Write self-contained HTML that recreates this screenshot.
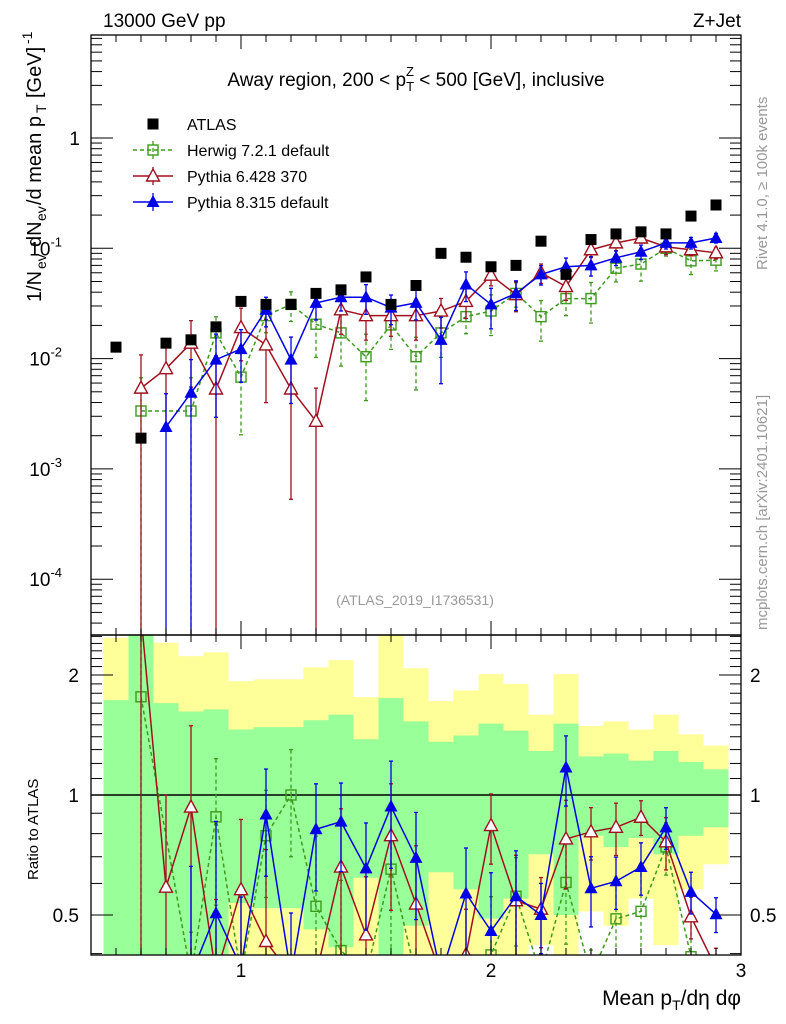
<!DOCTYPE html>
<html><head><meta charset="utf-8">
<style>
html,body{margin:0;background:#fff;overflow:hidden;width:786px;height:1024px;}
svg{display:block;font-family:"Liberation Sans",sans-serif;}
</style></head>
<body>
<svg id="c" width="786" height="1024" xmlns="http://www.w3.org/2000/svg">
<defs>
<clipPath id="cm"><rect x="91" y="35" width="650" height="600"/></clipPath>
<clipPath id="cr"><rect x="91" y="635" width="650" height="320"/></clipPath>
</defs>
<g id="bands" clip-path="url(#cr)"></g>
<g id="mainMarks" clip-path="url(#cm)"></g>
<g id="ratioMarks" clip-path="url(#cr)"></g>
<g id="axes"></g>
<text x="103" y="27" font-size="19">13000 GeV pp</text>
<text x="741" y="27" font-size="19" text-anchor="end">Z+Jet</text>
<text x="416" y="86" font-size="19" text-anchor="middle">Away region, 200 &lt; p<tspan font-size="13" dy="5">T</tspan><tspan font-size="13" dx="-8" dy="-15">Z</tspan><tspan dy="10"> &lt; 500 [GeV], inclusive</tspan></text>
<text x="415" y="605" font-size="14" fill="#999" text-anchor="middle">(ATLAS_2019_I1736531)</text>
<text transform="translate(767,270) rotate(-90)" font-size="15" fill="#999">Rivet 4.1.0, ≥ 100k events</text>
<text transform="translate(767,630) rotate(-90)" font-size="15" fill="#999">mcplots.cern.ch [arXiv:2401.10621]</text>
<g transform="translate(41,302) rotate(-90)" font-size="20">
<text x="0" y="0">1/N</text><text x="33" y="5" font-size="14">ev</text>
<text x="55" y="0">dN</text><text x="81" y="5" font-size="14">ev</text>
<text x="97" y="0">/d mean p</text><text x="189" y="5" font-size="14">T</text>
<text x="204" y="0">[GeV]</text><text x="258" y="-9" font-size="14">-1</text>
</g>
<text transform="translate(38,880) rotate(-90)" font-size="15">Ratio to ATLAS</text>
<text x="741" y="1005" font-size="21" text-anchor="end">Mean p<tspan font-size="14" dy="5">T</tspan><tspan dy="-5">/dη dφ</tspan></text>
<g id="legend"></g>
</svg>
<script>
const xs = [0.5,0.6,0.7,0.8,0.9,1.0,1.1,1.2,1.3,1.4,1.5,1.6,1.7,1.8,1.9,2.0,2.1,2.2,2.3,2.4,2.5,2.6,2.7,2.8,2.9];
const atlas = [0.0127,0.0019,0.0138,0.0148,0.0194,0.033,0.031,0.031,0.039,0.042,0.055,0.031,0.046,0.090,0.083,0.068,0.070,0.116,0.058,0.12,0.135,0.141,0.135,0.196,0.247];
const herwig = [null,0.00335,null,0.00335,0.0171,0.0068,0.0245,0.031,0.0205,0.0171,0.0104,0.0202,0.0104,0.0171,0.024,0.027,0.039,0.024,0.035,0.035,0.066,0.072,0.100,0.077,0.078];
const herwigRelErr = [0,1,0,1,0.4,0.7,0.3,0.3,0.5,0.5,0.6,0.4,0.5,0.4,0.3,0.4,0.25,0.4,0.3,0.4,0.25,0.3,0.15,0.25,0.2];
const py6 = [null,0.0054,0.0081,0.0138,0.0053,0.0191,0.0133,0.0053,0.0027,0.0277,0.0245,0.0245,0.0245,0.027,0.033,0.057,0.038,0.060,0.045,0.097,0.112,0.124,0.103,0.097,0.091];
const py6RelErr = [0,1,0.7,0.6,1,0.5,0.7,0.9,1,0.4,0.4,0.35,0.4,0.3,0.3,0.2,0.3,0.2,0.25,0.15,0.15,0.1,0.15,0.12,0.12];
const py8 = [null,null,0.0024,0.0049,0.0098,0.0122,0.0277,0.0098,0.032,0.036,0.036,0.029,0.032,0.0148,0.047,0.031,0.039,0.058,0.068,0.070,0.082,0.093,0.112,0.112,0.124];
const py8RelErr = [0,0,1,1,0.7,0.5,0.3,0.6,0.3,0.25,0.3,0.3,0.3,0.6,0.3,0.4,0.3,0.2,0.2,0.2,0.15,0.15,0.12,0.12,0.1];
const bandYHi = [2.48,3,2.41,2.23,2.28,1.93,1.95,1.95,2.09,2.18,1.76,3,2.08,1.72,1.83,2.01,1.90,1.59,2.01,1.49,1.53,1.46,1.59,1.42,1.33];
const bandGHi = [1.73,3,1.70,1.62,1.64,1.46,1.48,1.48,1.54,1.59,1.38,1.75,1.53,1.36,1.41,1.51,1.45,1.29,1.51,1.25,1.27,1.22,1.29,1.21,1.16];
const bandGLo = [0.3,0.3,0.3,0.3,0.3,0.536,0.52,0.52,0.46,0.415,0.62,0.3,0.47,0.64,0.58,0.49,0.55,0.71,0.5,0.79,0.74,0.78,0.71,0.79,0.83];
const bandYLo = [0.3,0.3,0.3,0.3,0.3,0.3,0.3,0.3,0.3,0.3,0.3,0.3,0.3,0.3,0.3,0.3,0.3,0.42,0.3,0.51,0.47,0.55,0.42,0.58,0.67];
const xTicks = [1,2,3];
const mainTicks = [1,0.1,0.01,0.001,0.0001];
const mainTickLabels = ["1","10","10","10","10"];
const mainTickExp = ["","-1","-2","-3","-4"];
const ratioTicks = [2,1,0.5];
const ratioTickLabels = ["2","1","0.5"];

const NS="http://www.w3.org/2000/svg";
const X0=91,X1=741,MT=35,MB=635,RT=635,RB=955;
const sx = v => X0 + (v-0.4)/2.6*(X1-X0);
const sy = v => 138 - 110.3*Math.log10(v);
const sr = v => 795 - 398.6*Math.log10(v);
function mk(tag, parent, attrs){const e=document.createElementNS(NS,tag);for(const k in attrs)e.setAttribute(k,attrs[k]);parent.appendChild(e);return e;}
const G=id=>document.getElementById(id);

const bg=G('bands');
xs.forEach((x,i)=>{
  const xa=sx(x-0.05), xb=sx(x+0.05);
  const yb=Math.min(sr(bandYLo[i]),RB), yt=Math.max(sr(bandYHi[i]),RT);
  let r=mk('rect',bg,{x:xa,y:yt,width:xb-xa,height:yb-yt,fill:'#ffff99'});
  
  
  const gb=Math.min(sr(bandGLo[i]),RB), gt=Math.max(sr(bandGHi[i]),RT);
  let g=mk('rect',bg,{x:xa,y:gt,width:xb-xa,height:gb-gt,fill:'#99ff99'});
  
  
});
let one=mk('line',G('ratioMarks'),{x1:X0,x2:X1,y1:sr(1),y2:sr(1),stroke:'#000','stroke-width':1.5});



function marker(parent,type,x,y,color){
  let e;
  if(type==='fsq') e=mk('rect',parent,{x:x-5.5,y:y-5.5,width:11,height:11,fill:color});
  else if(type==='osq') e=mk('rect',parent,{x:x-5,y:y-5,width:10,height:10,fill:'none',stroke:color,'stroke-width':1.4});
  else if(type==='otri') e=mk('polygon',parent,{points:`${x},${y-7} ${x+6.5},${y+5} ${x-6.5},${y+5}`,fill:'#fff',stroke:color,'stroke-width':1.4});
  else e=mk('polygon',parent,{points:`${x},${y-7} ${x+6.5},${y+5} ${x-6.5},${y+5}`,fill:color});
  
  
  return e;
}
function clampY(y,top,bot){return Math.max(top-20,Math.min(bot+20,y));}
function series(vals,rel,color,dash,type,name){
  [['mainMarks',sy,MT,MB],['ratioMarks',sr,RT,RB]].forEach(([gid,scale,top,bot],pi)=>{
    const par=G(gid);
    const grp=mk('g',par,{});
    
    
    const pts=[];
    xs.forEach((x,i)=>{
      if(vals[i]==null) return;
      const v = pi? vals[i]/atlas[i] : vals[i];
      const e = v*rel[i];
      const hi=v+e, lo=v-e;
      const px=sx(x), py=clampY(scale(v),top,bot);
      pts.push([px,py]);
      const yh=clampY(scale(hi),top,bot);
      const yl = lo>0? clampY(scale(lo),top,bot): bot+20;
      const eb=mk('line',grp,{x1:px,x2:px,y1:yh,y2:yl,stroke:color,'stroke-width':1.3,'stroke-dasharray':dash});
      
      
      mk('line',grp,{x1:px-2,x2:px+2,y1:yh,y2:yh,stroke:color,'stroke-width':1.3});
      if(lo>0) mk('line',grp,{x1:px-2,x2:px+2,y1:yl,y2:yl,stroke:color,'stroke-width':1.3});
    });
    const pl=mk('polyline',grp,{points:pts.map(p=>p.join(',')).join(' '),fill:'none',stroke:color,'stroke-width':1.5,'stroke-dasharray':dash});
    
    
    pts.forEach(p=>marker(grp,type,p[0],p[1],color));
  });
}
series(herwig,herwigRelErr,'#3c9a1c','4,3','osq','herwig-series');
series(py6,py6RelErr,'#a0101e','','otri','pythia6-series');
series(py8,py8RelErr,'#0000e6','','ftri','pythia8-series');
const ag=mk('g',G('mainMarks'),{});


xs.forEach((x,i)=>marker(ag,'fsq',sx(x),sy(atlas[i]),'#000'));

const ax=G('axes');
[[MT,MB],[RT,RB]].forEach(([t,b])=>mk('rect',ax,{x:X0,y:t,width:X1-X0,height:b-t,fill:'none',stroke:'#000','stroke-width':1.3}));
for(let k=4;k<=30;k++){
  const v=k/10, px=sx(v), maj=(k%10===0), L=maj?14:7;
  [[MT,1],[MB,-1],[RT,1],[RB,-1]].forEach(([y,d])=>mk('line',ax,{x1:px,x2:px,y1:y,y2:y+d*L,stroke:'#000','stroke-width':1}));
}
xTicks.forEach(v=>{const t=mk('text',ax,{x:sx(v),y:977,'font-size':19,'text-anchor':'middle'});t.textContent=v;
  
  });
for(let e=-5;e<=0;e++){
  for(let m=1;m<10;m++){
    const v=m*Math.pow(10,e); const py=sy(v);
    if(py<MT||py>MB) continue;
    const L=m===1?22:11;
    mk('line',ax,{x1:X0,x2:X0+L,y1:py,y2:py,stroke:'#000','stroke-width':1});
    mk('line',ax,{x1:X1,x2:X1-L,y1:py,y2:py,stroke:'#000','stroke-width':1});
  }
}
mainTicks.forEach((v,i)=>{
  const t=mk('text',ax,{x:mainTickExp[i]?62:80,y:sy(v)+7,'font-size':19,'text-anchor':'end'});
  t.textContent=mainTickLabels[i];
  
  
  if(mainTickExp[i]){const s=mk('tspan',t,{'font-size':13,dy:-9});s.textContent=mainTickExp[i];}
});
for(let k=4;k<=25;k++){
  const v=k/10, py=sr(v); if(py<RT||py>RB) continue;
  const maj=ratioTicks.includes(v), L=maj?22:11;
  mk('line',ax,{x1:X0,x2:X0+L,y1:py,y2:py,stroke:'#000','stroke-width':1});
  mk('line',ax,{x1:X1,x2:X1-L,y1:py,y2:py,stroke:'#000','stroke-width':1});
}
ratioTicks.forEach((v,i)=>{
  const t=mk('text',ax,{x:79,y:sr(v)+7,'font-size':19,'text-anchor':'end'});t.textContent=ratioTickLabels[i];
  
  
  const t2=mk('text',ax,{x:750,y:sr(v)+7,'font-size':19});t2.textContent=ratioTickLabels[i];
  
  
});
const lg=G('legend');
const legItems=[['ATLAS','fsq','#000',null],['Herwig 7.2.1 default','osq','#3c9a1c','4,3'],['Pythia 6.428 370','otri','#a0101e',''],['Pythia 8.315 default','ftri','#0000e6','']];
legItems.forEach((it,i)=>{
  const y=124+i*26;
  const g=mk('g',lg,{});
  
  
  if(it[3]!==null){
    mk('line',g,{x1:133,x2:173,y1:y,y2:y,stroke:it[2],'stroke-width':1.5,'stroke-dasharray':it[3]});
    mk('line',g,{x1:153,x2:153,y1:y-9,y2:y+9,stroke:it[2],'stroke-width':1.3,'stroke-dasharray':it[3]});
  }
  marker(g,it[1],153,y,it[2]);
  const t=mk('text',g,{x:187,y:y+6,'font-size':16});t.textContent=it[0];
});
</script>
</body></html>
